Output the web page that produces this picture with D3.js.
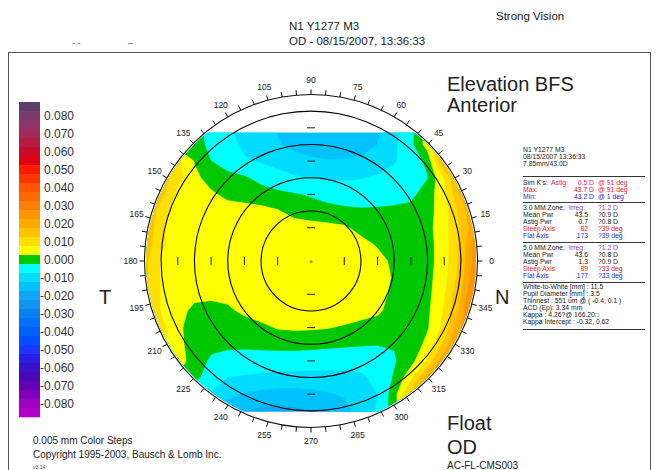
<!DOCTYPE html>
<html><head><meta charset="utf-8">
<script src="https://cdn.jsdelivr.net/npm/d3@7"></script>
<style>
body{margin:0;background:#fff}
svg{display:block}
text{font-family:"Liberation Sans",Arial,sans-serif}
</style>
</head><body>
<svg id="c" width="656" height="470"></svg>
<script>
// ---------- DATA ----------
const legendValues = [0.085,0.080,0.075,0.070,0.065,0.060,0.055,0.050,0.045,0.040,0.035,0.030,0.025,0.020,0.015,0.010,0.005,0.000,
  -0.005,-0.010,-0.015,-0.020,-0.025,-0.030,-0.035,-0.040,-0.045,-0.050,-0.055,-0.060,-0.065,-0.070,-0.075,-0.080,-0.085];
const legendColors = ["#5e3c6c","#7a3a6e","#8c3566","#a02a58","#b41c44","#c80a28","#e00010","#ff1a00","#ff3800","#ff5500",
  "#ff6a00","#ff8000","#ff9600","#ffaa00","#ffc300","#ffdf00","#ffff00","#00c800",
  "#00ffff","#00dcff","#00c2ff","#10a8f4","#1094f0","#0a80f0","#0070ff","#0060ff","#0050ff","#1e36ff","#2a1ee6","#3a10c8",
  "#4a08b4","#6400b4","#8200bc","#a000c4","#b400c8"];
const legendLabels = [0.080,0.070,0.060,0.050,0.040,0.030,0.020,0.010,0.000,-0.010,-0.020,-0.030,-0.040,-0.050,-0.060,-0.070,-0.080];

// elevation grid (microns), x from -5 to 5 mm, y from +5 (top) to -5 mm, 0.5 mm steps
const gridX = [-5,-4.5,-4,-3.5,-3,-2.5,-2,-1.5,-1,-0.5,0,0.5,1,1.5,2,2.5,3,3.5,4,4.5,5];
const gridY = [5,4.5,4,3.5,3,2.5,2,1.5,1,0.5,0,-0.5,-1,-1.5,-2,-2.5,-3,-3.5,-4,-4.5,-5];
const elevRows = [
 [2,1,0,-1,-4,-7,-9.5,-11,-13,-15,-16.5,-17,-17,-16,-13.5,-9.5,-4.5,5,18,25,30],
 [2,1,0,-1,-4,-7,-9.5,-11,-13,-15,-16.5,-17,-17,-16,-13.5,-9.5,-4.5,5,18,25,30],
 [2,1,0,-1,-4,-7,-9.5,-11,-13,-15,-16.5,-17,-17,-16,-13.5,-9.5,-4.5,5,18,25,30],
 [2,1,0,-1,-3.5,-6,-8.5,-10,-12,-14,-15.5,-16.5,-16.5,-15,-12.5,-8.5,-4,5,18,25,30],
 [20,15,9,2.2,-2.5,-5,-7,-8,-9.5,-10.5,-11.5,-12,-12,-11.5,-10,-8,-5,-1.6,20,28,32],
 [22,16,9,4,0,-1,-2,-4,-5.5,-7,-7.8,-8.2,-8.2,-7.8,-7,-5.5,-4,-2.7,8,20,28],
 [22,14,6,5,3.5,1,0,-0.5,-1.5,-2.2,-3,-4,-4.5,-4.8,-4.8,-4.5,-3.8,0,6,18,28],
 [20,9,6,5.5,5,5,4.8,4,2.9,0.5,-0.5,-1.2,-1.7,-2,-1.8,-1.5,-1,0.5,5.5,14,24],
 [18,8,6,5.5,5.5,5.5,5.5,5.5,5.3,5,4.5,4,3.2,0.9,0,-0.5,-0.3,1,5.5,13,22],
 [16,8,6,5.5,5.5,5.5,5.5,5.5,5.5,5.5,5.5,5.3,5,4,2,0,-0.5,0.8,5,14,26],
 [14,7,6,5.5,5.5,5.5,5.5,5.5,5.5,5.5,5.5,5.7,7.8,5.3,4,1.5,0,0.8,5,14,26],
 [14,7,6,5.5,5.5,5.5,5.5,5.5,5.5,5.5,5.5,5.5,5.5,5.3,4.5,2,0,1,5.5,15,28],
 [14,7,5.5,4,3.7,4,4.6,5,5.3,5.5,5.5,5.5,5.3,5,4,1.5,0,1,7,17,32],
 [14,7,4.5,1,0.5,1.5,3.5,4.5,5,5.2,5.2,5,4.8,4.3,3.3,0.5,0,1.5,8,19,34],
 [14,9,4,-1,-1.5,-1.2,0,1.5,2.8,3.2,3.1,2.7,2,1,0.3,-0.5,-0.5,2,9,22,36],
 [14,9,4,0,-1,-1.5,-1.5,-1.2,-1,-1,-1.2,-1.5,-1.8,-2.1,-2.3,-2.2,-1,4,14,28,40],
 [14,9,4.5,0.5,-3.5,-4.5,-5,-5,-5,-5,-5.2,-5.5,-5.8,-6,-5.5,-3,0.6,8,22,32,40],
 [10,6,2,-1,-5.4,-7.6,-8,-8.5,-9,-9.2,-9.2,-9,-8.8,-8.2,-6.5,-2,6,20,30,36,40],
 [-5,-6,-6.5,-7,-8,-11,-13,-14,-14.5,-14.5,-14,-13,-12,-10,-7.5,0,15,30,35,38,40],
 [-8,-10,-12,-14,-15,-16,-17.5,-18.5,-19,-18.5,-17.5,-16,-14,-11,-7,0,15,30,35,38,40],
 [-8,-10,-12,-14,-15,-16,-17.5,-18.5,-19,-18.5,-17.5,-16,-14,-11,-7,0,15,30,35,38,40]
];
const ringRadii = [1.5,2.5,3.5,4.5];
const axisTicks = [-4,-3,-2,-1,1,2,3,4];
const degreeLabels = [0,15,30,45,60,75,90,105,120,135,150,165,180,195,210,225,240,255,270,285,300,315,330,345];
const mapRadius = 4.95, outerRadius = 5.0, mapTop = 3.85, mapBottom = -4.53;

const panelRows = [
  {y:150, cells:[[523,"N1 Y1277 M3","#222","start"]]},
  {y:157, cells:[[523,"08/15/2007 13:36:33","#222","start"]]},
  {y:164, cells:[[523,"7.85mm/43.0D","#222","start"]]},
  {y:183, cells:[[523,"Sim K's:","#222","start"],[551,"Astig:","#e8205a","start"],[594,"0.5 D","#e8205a","end"],[598,"@ 91 deg","#e8205a","start"]]},
  {y:190, cells:[[523,"Max:","#e82020","start"],[594,"43.7 D","#e82020","end"],[598,"@ 91 deg","#e82020","start"]]},
  {y:197, cells:[[523,"Min:","#2030d8","start"],[594,"43.2 D","#2030d8","end"],[598,"@ 1 deg","#2030d8","start"]]},
  {y:208, cells:[[523,"3.0 MM Zone:","#222","start"],[569,"Irreg:","#9040a8","start"],[598,"?1.2 D","#9040a8","start"]]},
  {y:215, cells:[[523,"Mean Pwr","#222","start"],[588,"43.5","#222","end"],[598,"?0.9 D","#222","start"]]},
  {y:222, cells:[[523,"Astig Pwr","#222","start"],[588,"0.7","#222","end"],[598,"?0.8 D","#222","start"]]},
  {y:229, cells:[[523,"Steep Axis","#e82020","start"],[588,"82","#e82020","end"],[598,"?39 deg","#e82020","start"]]},
  {y:236, cells:[[523,"Flat Axis","#2030d8","start"],[588,"173","#2030d8","end"],[598,"?39 deg","#2030d8","start"]]},
  {y:248, cells:[[523,"5.0 MM Zone:","#222","start"],[569,"Irreg:","#9040a8","start"],[598,"?1.2 D","#9040a8","start"]]},
  {y:255, cells:[[523,"Mean Pwr","#222","start"],[588,"43.6","#222","end"],[598,"?0.8 D","#222","start"]]},
  {y:262, cells:[[523,"Astig Pwr","#222","start"],[588,"1.3","#222","end"],[598,"?0.9 D","#222","start"]]},
  {y:269, cells:[[523,"Steep Axis","#e82020","start"],[588,"89","#e82020","end"],[598,"?33 deg","#e82020","start"]]},
  {y:276, cells:[[523,"Flat Axis","#2030d8","start"],[588,"177","#2030d8","end"],[598,"?33 deg","#2030d8","start"]]},
  {y:287, cells:[[523,"White-to-White [mm] : 11.5","#222","start"]]},
  {y:294, cells:[[523,"Pupil Diameter [mm] : 3.5","#222","start"]]},
  {y:301, cells:[[523,"Thinnest : 551 um @ ( -0.4, 0.1 )","#222","start"]]},
  {y:308, cells:[[523,"ACD (Ep): 3.34 mm","#222","start"]]},
  {y:315, cells:[[523,"Kappa : 4.26?@ 166.20\u25A1","#222","start"]]},
  {y:322, cells:[[523,"Kappa Intercept : -0.32, 0.62","#222","start"]]}
];
const panelDividers = [176, 202, 242, 282, 329];

// ---------- DRAW ----------
const svg = d3.select("#c");
const cx = 311, cy = 261, S = 33.3;
const x = d3.scaleLinear().domain([-5,5]).range([cx-5*S, cx+5*S]);
const y = d3.scaleLinear().domain([-5,5]).range([cy+5*S, cy-5*S]);
const r = d3.scaleLinear().domain([0,5]).range([0,5*S]);

// frame
svg.append("rect").attr("x",8.5).attr("y",52.5).attr("width",642).attr("height",430)
  .attr("fill","none").attr("stroke","#555").attr("stroke-width",1);

// header
const hdr = svg.append("g").attr("fill","#222").attr("font-size",11.5);
hdr.append("text").attr("x",496).attr("y",20).text("Strong Vision");
hdr.append("text").attr("x",289).attr("y",30).text("N1 Y1277 M3");
hdr.append("text").attr("x",289).attr("y",45).text("OD - 08/15/2007, 13:36:33");
svg.append("text").attr("x",72).attr("y",46).attr("font-size",9).attr("fill","#555").text("- -");
svg.append("text").attr("x",128).attr("y",46).attr("font-size",9).attr("fill","#555").text("\u2013");

// legend
const legBand = 9, legTop = 102;
const yLeg = d3.scaleLinear().domain([legendValues[0]+0.0025, legendValues[legendValues.length-1]-0.0025])
  .range([legTop, legTop + legBand*legendValues.length]);
svg.append("g").selectAll("rect").data(legendValues).join("rect")
  .attr("x",19).attr("width",21)
  .attr("y",d=>yLeg(d+0.0025)).attr("height",d=>yLeg(d-0.0025)-yLeg(d+0.0025)+0.3)
  .attr("fill",(d,i)=>legendColors[i]);
svg.append("g").selectAll("text").data(legendLabels).join("text")
  .attr("x",74).attr("y",d=>yLeg(d)).attr("dy","0.35em").attr("text-anchor","end")
  .attr("font-size",12).attr("fill","#333").text(d=>d3.format(".3f")(d).replace("\u2212","-"));

// color for a band centered on value v (mm)
function bandColor(v){
  let best=0, bd=1e9;
  legendValues.forEach((lv,i)=>{const dd=Math.abs(lv-v); if(dd<bd){bd=dd;best=i;}});
  return legendColors[best];
}

// contours
const n = gridX.length;
const values = elevRows.flat();
const thresholds = d3.range(-22.5, 45, 5);
const cont = d3.contours().size([n, n]).thresholds(thresholds)(values);
const gxs = d3.scaleLinear().domain([0.5, n-0.5]).range([gridX[0], gridX[n-1]]);
const gys = d3.scaleLinear().domain([0.5, n-0.5]).range([gridY[0], gridY[n-1]]);
const proj = d3.geoTransform({point(px,py){ this.stream.point(x(gxs(px)), y(gys(py))); }});
const path = d3.geoPath(proj);

const defs = svg.append("defs");
defs.append("clipPath").attr("id","disk").append("circle").attr("cx",x(0)).attr("cy",y(0)).attr("r",r(mapRadius));
defs.append("clipPath").attr("id","cut").append("rect")
  .attr("x",x(-5)).attr("y",y(mapTop)).attr("width",x(5)-x(-5)).attr("height",y(mapBottom)-y(mapTop));
const mapG = svg.append("g").attr("clip-path","url(#cut)").append("g").attr("clip-path","url(#disk)");
mapG.selectAll("path").data(cont).join("path")
  .attr("d",path)
  .attr("fill",d=>bandColor((d.value+2.5)/1000))
  .attr("stroke",d=>bandColor((d.value+2.5)/1000)).attr("stroke-width",0.6);

// rings
svg.append("g").selectAll("circle").data(ringRadii).join("circle")
  .attr("cx",x(0)).attr("cy",y(0)).attr("r",d=>r(d))
  .attr("fill","none").attr("stroke","#000").attr("stroke-width",1.1);
svg.append("circle").attr("cx",x(0)).attr("cy",y(0)).attr("r",r(outerRadius))
  .attr("fill","none").attr("stroke","#111").attr("stroke-width",1.1);

// axis ticks
svg.append("g").selectAll("line").data(axisTicks).join("line")
  .attr("x1",d=>x(d)).attr("x2",d=>x(d)).attr("y1",y(0)-4).attr("y2",y(0)+4)
  .attr("stroke","#222").attr("stroke-width",1);
svg.append("g").selectAll("line").data(axisTicks).join("line")
  .attr("y1",d=>y(d)).attr("y2",d=>y(d)).attr("x1",x(0)-4).attr("x2",x(0)+4)
  .attr("stroke","#222").attr("stroke-width",1);
svg.append("text").attr("x",x(0)).attr("y",y(0)).attr("dy","0.55em").attr("text-anchor","middle")
  .attr("font-size",9).attr("fill","#555").text("*");

// degree ticks & labels
const R0 = r(outerRadius);
svg.append("g").selectAll("line").data(d3.range(0,360,5)).join("line")
  .attr("x1",d=>x(0)+R0*Math.cos(d*Math.PI/180)).attr("y1",d=>y(0)-R0*Math.sin(d*Math.PI/180))
  .attr("x2",d=>x(0)+(R0+5)*Math.cos(d*Math.PI/180)).attr("y2",d=>y(0)-(R0+5)*Math.sin(d*Math.PI/180))
  .attr("stroke","#111").attr("stroke-width",1);
svg.append("g").selectAll("text").data(degreeLabels).join("text")
  .attr("x",d=>x(0)+(R0+14)*Math.cos(d*Math.PI/180)).attr("y",d=>y(0)-(R0+14)*Math.sin(d*Math.PI/180))
  .attr("dy","0.35em").attr("text-anchor","middle").attr("font-size",8.5).attr("fill","#222").text(d=>d);

// big labels
const big = svg.append("g").attr("fill","#222").attr("font-size",20);
big.append("text").attr("x",447).attr("y",91).text("Elevation BFS");
big.append("text").attr("x",447).attr("y",112).text("Anterior");
big.append("text").attr("x",447).attr("y",430).text("Float");
big.append("text").attr("x",447).attr("y",454).text("OD");
big.append("text").attr("x",99).attr("y",304).text("T");
big.append("text").attr("x",495).attr("y",304).text("N");

// footer
const ft = svg.append("g").attr("fill","#222").attr("font-size",10);
ft.append("text").attr("x",33).attr("y",444).text("0.005 mm Color Steps");
ft.append("text").attr("x",33).attr("y",458).text("Copyright 1995-2003, Bausch & Lomb Inc.");
ft.append("text").attr("x",447).attr("y",469).text("AC-FL-CMS003");
svg.append("text").attr("x",33).attr("y",469).attr("font-size",5).attr("fill","#444").text("v3.14");

// right panel
const pg = svg.append("g").attr("font-size",6.8);
panelRows.forEach(row=>{
  row.cells.forEach(c=>{
    pg.append("text").attr("x",c[0]).attr("y",row.y).attr("dy","0.35em")
      .attr("text-anchor",c[3]).attr("fill",c[2]).text(c[1]);
  });
});
pg.selectAll("line").data(panelDividers).join("line")
  .attr("x1",523).attr("x2",645).attr("y1",d=>d+0.5).attr("y2",d=>d+0.5)
  .attr("stroke","#333").attr("stroke-width",1);
</script>
</body></html>
